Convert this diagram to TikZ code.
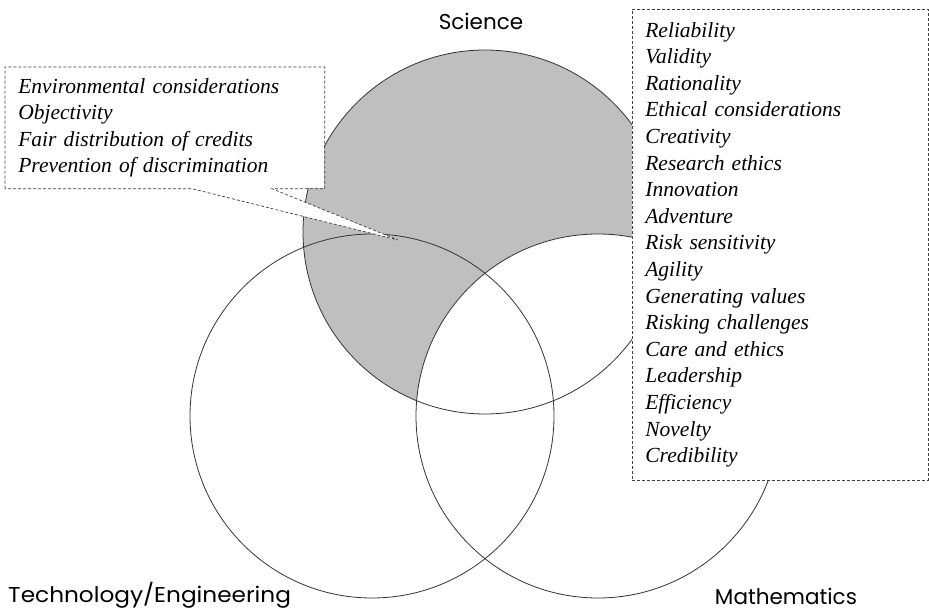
\documentclass[tikz,border=0pt]{standalone}
\usepackage{fontspec}
\setmainfont{Liberation Serif}
\newfontfamily\setfont{Poppins}
\usetikzlibrary{calc}

\begin{document}
\begin{tikzpicture}[x=1pt,y=-1pt]
	\tikzset{setline/.style={draw=black!80,line width=0.8pt},
		dashline/.style={draw=black!75,line width=0.7pt,dash pattern=on 3pt off 2pt},
		listbox/.style={dashline,fill=white,anchor=north west,align=left,inner xsep=13pt,inner ysep=0pt,
			font=\fontsize{21.5}{26.6}\selectfont\itshape},
		setlabel/.style={font=\setfont\fontsize{21.5}{24}\selectfont,inner sep=0pt}}
	\def\r{182}% same radius for the three sets
	\useasboundingbox (0,0) rectangle (929,612);
	\coordinate (S) at (485,232);
	\coordinate (T) at (372,416);
	\coordinate (M) at (598,416);
	% science part outside mathematics is shaded
	\fill[black!25] (S) circle[radius=\r pt];
	\fill[white] (M) circle[radius=\r pt];
	\foreach \c in {S,T,M}
	\draw[setline] (\c) circle[radius=\r pt];
	\node[setlabel] (sci) at (481,21) {Science};
	\node[setlabel,anchor=west,xscale=1.08] (tech) at (8,595) {Technology/Engineering};
	\node[setlabel] (math) at (786,596) {Mathematics};
	% callout with the shared values
	\node[listbox,draw=none,text width=293pt,minimum height=121pt] (env) at (5,67)
	{Environmental considerations\\Objectivity\\Fair distribution of credits\\Prevention of discrimination};
	\coordinate (tip) at (398,240);
	\coordinate (b1) at ($(env.south west)+(187,0)$);
	\coordinate (b2) at ($(env.south west)+(267,0)$);
	\fill[white] (b1)--(tip)--(b2)--cycle;
	\draw[dashline] (env.south west)--(env.north west)--(env.north east)--(env.south east)
	--(b2)--(tip)--(b1)--cycle;
	\node[listbox,text width=270pt,minimum height=471pt] (values) at (632,9)
	{Reliability\\Validity\\Rationality\\Ethical considerations\\Creativity\\Research ethics\\
		Innovation\\Adventure\\Risk sensitivity\\Agility\\Generating values\\Risking challenges\\
		Care and ethics\\Leadership\\Efficiency\\Novelty\\Credibility};
\end{tikzpicture}
\end{document}
